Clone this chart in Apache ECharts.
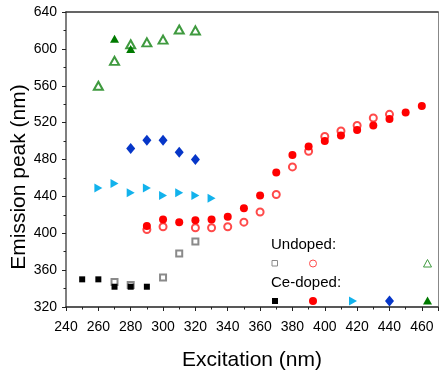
<!DOCTYPE html>
<html>
<head>
<meta charset="utf-8">
<script src="https://cdn.jsdelivr.net/npm/echarts@6/dist/echarts.min.js"></script>
<style>
  html, body { margin: 0; padding: 0; background: #fff; }
  #chart { width: 440px; height: 376px; }
</style>
</head>
<body>
<div id="chart"></div>
<script>
// excitation (nm) -> emission peak (nm)
const undopedSquareX = [270, 280, 300, 310, 320];
const undopedSquareY = [347, 344, 352, 378, 391];
const cedopedSquareX = [250, 260, 270, 280, 290];
const cedopedSquareY = [350, 350, 342, 342, 342];

const undopedCircleX = [290, 300, 320, 330, 340, 350, 360, 370, 380, 390, 400, 410, 420, 430, 440];
const undopedCircleY = [404, 407, 406, 406, 407, 412, 423, 442, 472, 489, 505, 511, 517, 525, 529];
const cedopedCircleX = [290, 300, 310, 320, 330, 340, 350, 360, 370, 380, 390, 400, 410, 420, 430, 440, 450, 460];
const cedopedCircleY = [408, 415, 412, 414, 415, 418, 427, 441, 466, 485, 494, 500, 506, 512, 517, 524, 531, 538];

const cedopedArrowX = [260, 270, 280, 290, 300, 310, 320, 330];
const cedopedArrowY = [449, 454, 444, 449, 441, 444, 441, 438];

const cedopedDiamondX = [280, 290, 300, 310, 320];
const cedopedDiamondY = [492, 501, 501, 488, 480];

const undopedTriangleX = [260, 270, 280, 290, 300, 310, 320];
const undopedTriangleY = [560, 587, 605, 607, 610, 621, 620];
const cedopedTriangleX = [270, 280];
const cedopedTriangleY = [611, 600];

const xTicks = [240, 260, 280, 300, 320, 340, 360, 380, 400, 420, 440, 460];
const yTicks = [320, 360, 400, 440, 480, 520, 560, 600, 640];

const font = 'Arial, "Liberation Sans", sans-serif';

function pairs(xs, ys) {
  return xs.map((x, i) => [x, ys[i]]);
}

function scatter(name, xs, ys, symbol, size, color, extra) {
  return Object.assign({
    name: name,
    type: 'scatter',
    data: pairs(xs, ys),
    symbol: symbol,
    symbolSize: size,
    itemStyle: { color: color, borderColor: color, borderWidth: symbol.indexOf('empty') === 0 ? 1 : 0, opacity: 1 },
    emphasis: { disabled: true },
    silent: true
  }, extra || {});
}

const chart = echarts.init(document.getElementById('chart'));

const option = {
  animation: false,
  grid: { left: 66, right: 2, top: 12, bottom: 61 },
  xAxis: [
    {
      type: 'value',
      min: 240,
      max: 470,
      interval: 20,
      name: 'Excitation (nm)',
      nameLocation: 'middle',
      nameGap: 43,
      nameTextStyle: { fontFamily: font, fontSize: 21, color: '#000' },
      axisLine: { show: true, onZero: false, lineStyle: { color: '#222', width: 1.5 } },
      axisTick: { show: true, inside: false, length: 4, lineStyle: { color: '#222' } },
      minorTick: { show: true, splitNumber: 2, length: 2.5, lineStyle: { color: '#222' } },
      splitLine: { show: false },
      axisLabel: {
        fontFamily: font, fontSize: 14, color: '#000', margin: 13, showMaxLabel: false,
        formatter: v => (xTicks.indexOf(v) >= 0 ? String(v) : '')
      }
    },
    {
      type: 'value',
      position: 'top',
      min: 240,
      max: 470,
      axisLine: { show: true, onZero: false, lineStyle: { color: '#333', width: 1.5 } },
      axisTick: { show: false },
      axisLabel: { show: false },
      splitLine: { show: false }
    }
  ],
  yAxis: [
    {
      type: 'value',
      min: 320,
      max: 640,
      interval: 40,
      axisLine: { show: true, onZero: false, lineStyle: { color: '#555', width: 1.5 } },
      axisTick: { show: true, inside: false, length: 4, lineStyle: { color: '#222' } },
      minorTick: { show: true, splitNumber: 2, length: 2.5, lineStyle: { color: '#222' } },
      splitLine: { show: false },
      axisLabel: {
        fontFamily: font, fontSize: 14, color: '#000', margin: 9,
        formatter: v => (yTicks.indexOf(v) >= 0 ? String(v) : '')
      }
    },
    {
      type: 'value',
      position: 'right',
      min: 320,
      max: 640,
      axisLine: { show: true, onZero: false, lineStyle: { color: '#888', width: 1 } },
      axisTick: { show: false },
      axisLabel: { show: false },
      splitLine: { show: false }
    }
  ],
  series: [
    scatter('Undoped square', undopedSquareX, undopedSquareY, 'emptyRect', 6, '#8a8a8a'),
    scatter('Undoped circle', undopedCircleX, undopedCircleY, 'emptyCircle', 7, '#ff4a4a'),
    scatter('Undoped triangle', undopedTriangleX, undopedTriangleY, 'emptyTriangle', [9, 8], '#3f9a3f'),
    scatter('Ce-doped square', cedopedSquareX, cedopedSquareY, 'rect', 6, '#000000'),
    scatter('Ce-doped circle', cedopedCircleX, cedopedCircleY, 'circle', 8, '#ff0000'),
    scatter('Ce-doped arrow', cedopedArrowX, cedopedArrowY, 'triangle', [9, 8], '#12b2ec', { symbolRotate: -90 }),
    scatter('Ce-doped diamond', cedopedDiamondX, cedopedDiamondY, 'diamond', [9, 11], '#0636c8'),
    scatter('Ce-doped triangle', cedopedTriangleX, cedopedTriangleY, 'triangle', [9, 8], '#007a00')
  ],
  graphic: [
    {
      type: 'text',
      x: 19, y: 177,
      rotation: Math.PI / 2,
      style: {
        text: 'Emission peak (nm)', fontFamily: font, fontSize: 21, fill: '#000',
        align: 'center', verticalAlign: 'middle'
      }
    },
    { type: 'text', x: 271, y: 245, style: { text: 'Undoped:', fontFamily: font, fontSize: 15, fill: '#000', verticalAlign: 'middle' } },
    { type: 'text', x: 271, y: 283, style: { text: 'Ce-doped:', fontFamily: font, fontSize: 15, fill: '#000', verticalAlign: 'middle' } },
    // legend keys, undoped row
    { type: 'rect', shape: { x: 272, y: 260.5, width: 5.5, height: 5.5 }, style: { fill: '#fff', stroke: '#8a8a8a', lineWidth: 1 } },
    { type: 'circle', shape: { cx: 313, cy: 263.5, r: 3.5 }, style: { fill: '#fff', stroke: '#ff4a4a', lineWidth: 1 } },
    { type: 'polygon', shape: { points: [[427.5, 259.5], [431.5, 267], [423.5, 267]] }, style: { fill: '#fff', stroke: '#3f9a3f', lineWidth: 1 } },
    // legend keys, Ce-doped row
    { type: 'rect', shape: { x: 272, y: 298, width: 6, height: 6 }, style: { fill: '#000' } },
    { type: 'circle', shape: { cx: 313, cy: 301, r: 4 }, style: { fill: '#ff0000' } },
    { type: 'polygon', shape: { points: [[349, 296.5], [357, 301], [349, 305.5]] }, style: { fill: '#12b2ec' } },
    { type: 'polygon', shape: { points: [[389.5, 295.5], [394, 301], [389.5, 306.5], [385, 301]] }, style: { fill: '#0636c8' } },
    { type: 'polygon', shape: { points: [[427.5, 296.5], [432, 304.5], [423, 304.5]] }, style: { fill: '#007a00' } }
  ]
};

chart.setOption(option);
</script>
</body>
</html>
